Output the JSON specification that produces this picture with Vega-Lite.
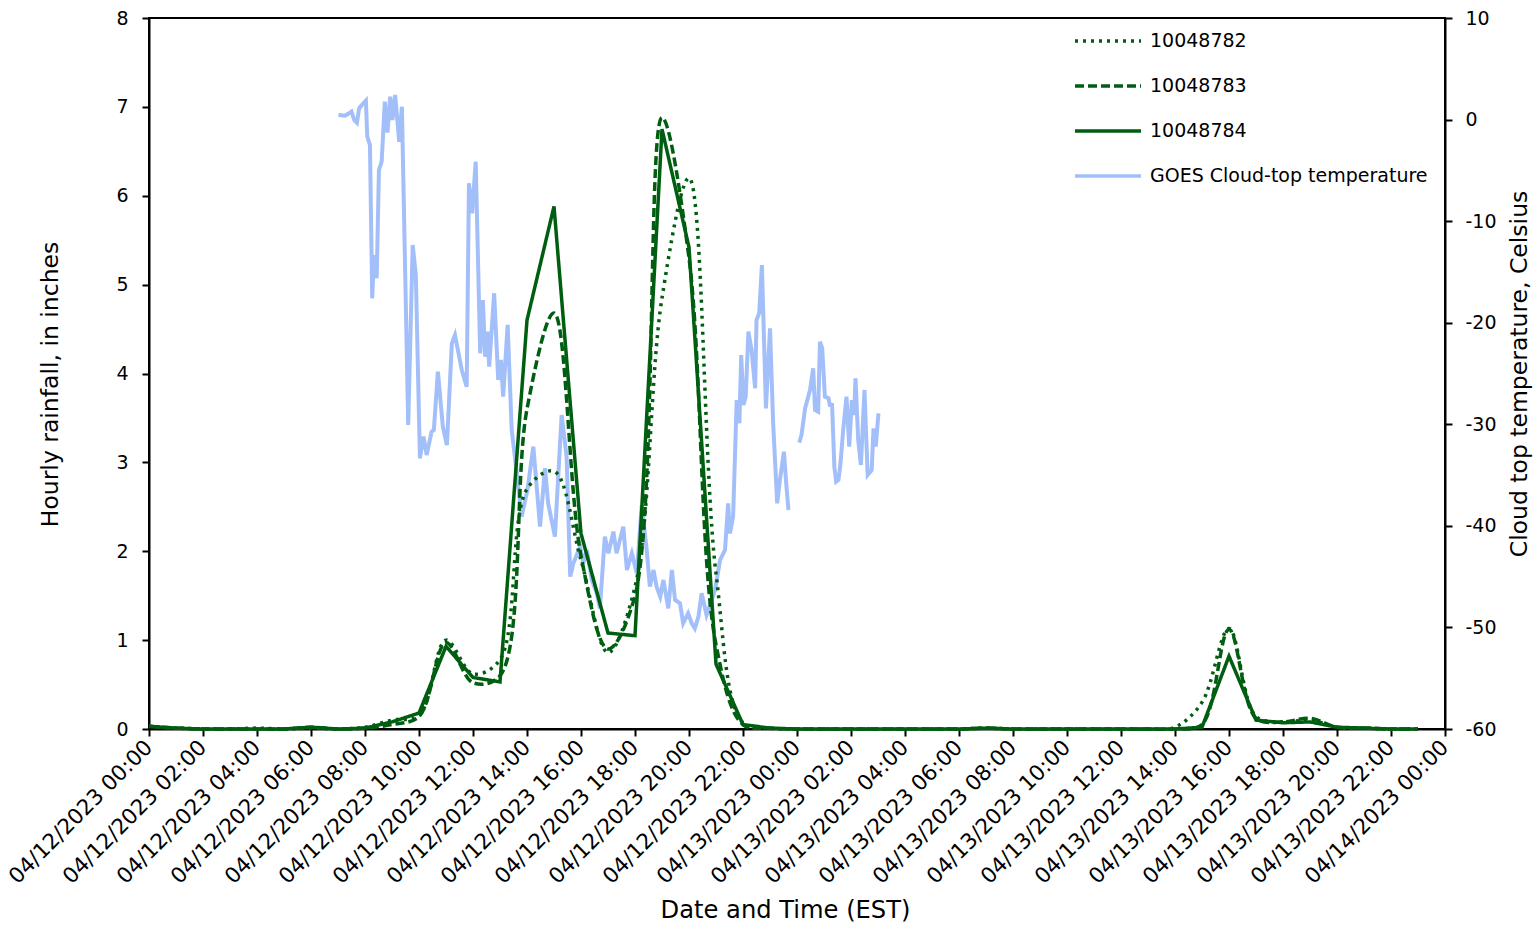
{
  "$schema": "https://vega.github.io/schema/vega-lite/v6.json",
  "width": 1296,
  "height": 711,
  "autosize": {"type": "none"},
  "padding": {"left": 149, "top": 18, "right": 92, "bottom": 201},
  "background": "white",
  "config": {
    "font": "DejaVu Sans",
    "view": {"stroke": "black", "strokeWidth": 2},
    "axis": {
      "domainColor": "black", "domainWidth": 2,
      "tickColor": "black", "tickWidth": 2, "tickSize": 7,
      "labelColor": "black", "titleColor": "black",
      "grid": false, "labelFontSize": 19, "titleFontSize": 23.5, "titleFontWeight": "normal"
    },
    "legend": {
      "orient": "none", "legendX": 924, "legendY": -12,
      "symbolType": "stroke", "symbolSize": 4356, "symbolStrokeWidth": 3.5,
      "labelFontSize": 19, "labelOffset": 7, "rowPadding": 0, "padding": 0, "labelLimit": 400,
      "labelColor": "black"
    }
  },
  "title": {
    "text": "NEXRAD Pixels 10048782, 10048783, 10048784",
    "fontSize": 33.6, "fontWeight": "normal", "baseline": "alphabetic",
    "offset": -9, "dx": -15, "color": "black"
  },
  "datasets": {
    "rain": [
      {"t": "2023-04-12T00:00", "px782": 0.03, "px783": 0.03, "px784": 0.03},
      {"t": "2023-04-12T01:00", "px782": 0.01, "px783": 0.01, "px784": 0.01},
      {"t": "2023-04-12T02:00", "px782": 0, "px783": 0, "px784": 0},
      {"t": "2023-04-12T03:00", "px782": 0, "px783": 0, "px784": 0},
      {"t": "2023-04-12T04:00", "px782": 0.01, "px783": 0, "px784": 0},
      {"t": "2023-04-12T05:00", "px782": 0, "px783": 0, "px784": 0},
      {"t": "2023-04-12T06:00", "px782": 0.01, "px783": 0.02, "px784": 0.02},
      {"t": "2023-04-12T07:00", "px782": 0, "px783": 0, "px784": 0},
      {"t": "2023-04-12T08:00", "px782": 0.02, "px783": 0.01, "px784": 0.01},
      {"t": "2023-04-12T09:00", "px782": 0.1, "px783": 0.05, "px784": 0.08},
      {"t": "2023-04-12T10:00", "px782": 0.15, "px783": 0.14, "px784": 0.18},
      {"t": "2023-04-12T11:00", "px782": 1.0, "px783": 0.97, "px784": 0.93},
      {"t": "2023-04-12T12:00", "px782": 0.62, "px783": 0.52, "px784": 0.58},
      {"t": "2023-04-12T13:00", "px782": 0.78, "px783": 0.6, "px784": 0.53},
      {"t": "2023-04-12T14:00", "px782": 2.7, "px783": 3.6, "px784": 4.6},
      {"t": "2023-04-12T15:00", "px782": 2.9, "px783": 4.68, "px784": 5.88},
      {"t": "2023-04-12T16:00", "px782": 1.9, "px783": 1.95, "px784": 2.2},
      {"t": "2023-04-12T17:00", "px782": 0.86, "px783": 0.9, "px784": 1.08},
      {"t": "2023-04-12T18:00", "px782": 1.6, "px783": 1.5, "px784": 1.05},
      {"t": "2023-04-12T19:00", "px782": 4.85, "px783": 6.88, "px784": 6.75},
      {"t": "2023-04-12T20:00", "px782": 6.2, "px783": 5.3, "px784": 5.42},
      {"t": "2023-04-12T21:00", "px782": 1.75, "px783": 0.95, "px784": 0.73},
      {"t": "2023-04-12T22:00", "px782": 0.07, "px783": 0.05, "px784": 0.05},
      {"t": "2023-04-12T23:00", "px782": 0.01, "px783": 0.01, "px784": 0.01},
      {"t": "2023-04-13T00:00", "px782": 0, "px783": 0, "px784": 0},
      {"t": "2023-04-13T01:00", "px782": 0, "px783": 0, "px784": 0},
      {"t": "2023-04-13T02:00", "px782": 0, "px783": 0, "px784": 0},
      {"t": "2023-04-13T03:00", "px782": 0, "px783": 0, "px784": 0},
      {"t": "2023-04-13T04:00", "px782": 0, "px783": 0, "px784": 0},
      {"t": "2023-04-13T05:00", "px782": 0, "px783": 0, "px784": 0},
      {"t": "2023-04-13T06:00", "px782": 0, "px783": 0, "px784": 0},
      {"t": "2023-04-13T07:00", "px782": 0.01, "px783": 0.01, "px784": 0.01},
      {"t": "2023-04-13T08:00", "px782": 0, "px783": 0, "px784": 0},
      {"t": "2023-04-13T09:00", "px782": 0, "px783": 0, "px784": 0},
      {"t": "2023-04-13T10:00", "px782": 0, "px783": 0, "px784": 0},
      {"t": "2023-04-13T11:00", "px782": 0, "px783": 0, "px784": 0},
      {"t": "2023-04-13T12:00", "px782": 0, "px783": 0, "px784": 0},
      {"t": "2023-04-13T13:00", "px782": 0, "px783": 0, "px784": 0},
      {"t": "2023-04-13T14:00", "px782": 0.02, "px783": 0, "px784": 0},
      {"t": "2023-04-13T15:00", "px782": 0.3, "px783": 0.05, "px784": 0.02},
      {"t": "2023-04-13T16:00", "px782": 1.13, "px783": 1.12, "px784": 0.82},
      {"t": "2023-04-13T17:00", "px782": 0.14, "px783": 0.12, "px784": 0.1},
      {"t": "2023-04-13T18:00", "px782": 0.08, "px783": 0.08, "px784": 0.07},
      {"t": "2023-04-13T19:00", "px782": 0.1, "px783": 0.12, "px784": 0.08},
      {"t": "2023-04-13T20:00", "px782": 0.02, "px783": 0.02, "px784": 0.02},
      {"t": "2023-04-13T21:00", "px782": 0.01, "px783": 0.01, "px784": 0.01},
      {"t": "2023-04-13T22:00", "px782": 0, "px783": 0, "px784": 0},
      {"t": "2023-04-13T23:00", "px782": 0, "px783": 0, "px784": 0}
    ],
    "goes": [
      {"t": "2023-04-12T07:01", "goes": 0.45, "seg": 1},
      {"t": "2023-04-12T07:16", "goes": 0.38, "seg": 1},
      {"t": "2023-04-12T07:30", "goes": 0.78, "seg": 1},
      {"t": "2023-04-12T07:36", "goes": -0.04, "seg": 1},
      {"t": "2023-04-12T07:42", "goes": -0.31, "seg": 1},
      {"t": "2023-04-12T07:47", "goes": 1.11, "seg": 1},
      {"t": "2023-04-12T07:53", "goes": 1.43, "seg": 1},
      {"t": "2023-04-12T08:02", "goes": 1.86, "seg": 1},
      {"t": "2023-04-12T08:05", "goes": -1.69, "seg": 1},
      {"t": "2023-04-12T08:11", "goes": -2.5, "seg": 1},
      {"t": "2023-04-12T08:16", "goes": -17.6, "seg": 1},
      {"t": "2023-04-12T08:20", "goes": -13.33, "seg": 1},
      {"t": "2023-04-12T08:26", "goes": -15.63, "seg": 1},
      {"t": "2023-04-12T08:31", "goes": -4.96, "seg": 1},
      {"t": "2023-04-12T08:37", "goes": -4.15, "seg": 1},
      {"t": "2023-04-12T08:44", "goes": 1.76, "seg": 1},
      {"t": "2023-04-12T08:50", "goes": -1.29, "seg": 1},
      {"t": "2023-04-12T08:56", "goes": 2.25, "seg": 1},
      {"t": "2023-04-12T09:01", "goes": -0.04, "seg": 1},
      {"t": "2023-04-12T09:07", "goes": 2.42, "seg": 1},
      {"t": "2023-04-12T09:16", "goes": -2.18, "seg": 1},
      {"t": "2023-04-12T09:22", "goes": 1.27, "seg": 1},
      {"t": "2023-04-12T09:36", "goes": -30.07, "seg": 1},
      {"t": "2023-04-12T09:46", "goes": -12.35, "seg": 1},
      {"t": "2023-04-12T09:53", "goes": -15.3, "seg": 1},
      {"t": "2023-04-12T10:02", "goes": -33.35, "seg": 1},
      {"t": "2023-04-12T10:10", "goes": -31.22, "seg": 1},
      {"t": "2023-04-12T10:17", "goes": -33.02, "seg": 1},
      {"t": "2023-04-12T10:28", "goes": -30.73, "seg": 1},
      {"t": "2023-04-12T10:33", "goes": -30.56, "seg": 1},
      {"t": "2023-04-12T10:42", "goes": -24.82, "seg": 1},
      {"t": "2023-04-12T10:53", "goes": -30.24, "seg": 1},
      {"t": "2023-04-12T11:02", "goes": -32.04, "seg": 1},
      {"t": "2023-04-12T11:13", "goes": -22.03, "seg": 1},
      {"t": "2023-04-12T11:20", "goes": -21.21, "seg": 1},
      {"t": "2023-04-12T11:35", "goes": -24.65, "seg": 1},
      {"t": "2023-04-12T11:46", "goes": -26.3, "seg": 1},
      {"t": "2023-04-12T11:51", "goes": -6.27, "seg": 1},
      {"t": "2023-04-12T11:58", "goes": -9.23, "seg": 1},
      {"t": "2023-04-12T12:06", "goes": -4.15, "seg": 1},
      {"t": "2023-04-12T12:16", "goes": -23.01, "seg": 1},
      {"t": "2023-04-12T12:22", "goes": -17.76, "seg": 1},
      {"t": "2023-04-12T12:27", "goes": -23.35, "seg": 1},
      {"t": "2023-04-12T12:32", "goes": -20.88, "seg": 1},
      {"t": "2023-04-12T12:36", "goes": -24.33, "seg": 1},
      {"t": "2023-04-12T12:47", "goes": -17.1, "seg": 1},
      {"t": "2023-04-12T12:56", "goes": -25.64, "seg": 1},
      {"t": "2023-04-12T13:02", "goes": -23.67, "seg": 1},
      {"t": "2023-04-12T13:07", "goes": -27.28, "seg": 1},
      {"t": "2023-04-12T13:17", "goes": -20.22, "seg": 1},
      {"t": "2023-04-12T13:26", "goes": -30.56, "seg": 1},
      {"t": "2023-04-12T13:37", "goes": -34.67, "seg": 1},
      {"t": "2023-04-12T13:48", "goes": -39.1, "seg": 1},
      {"t": "2023-04-12T14:01", "goes": -36.47, "seg": 1},
      {"t": "2023-04-12T14:14", "goes": -32.2, "seg": 1},
      {"t": "2023-04-12T14:29", "goes": -40.08, "seg": 1},
      {"t": "2023-04-12T14:40", "goes": -34.33, "seg": 1},
      {"t": "2023-04-12T14:47", "goes": -37.78, "seg": 1},
      {"t": "2023-04-12T15:02", "goes": -41.07, "seg": 1},
      {"t": "2023-04-12T15:17", "goes": -29.09, "seg": 1},
      {"t": "2023-04-12T15:28", "goes": -33.19, "seg": 1},
      {"t": "2023-04-12T15:36", "goes": -45.0, "seg": 1},
      {"t": "2023-04-12T15:43", "goes": -43.69, "seg": 1},
      {"t": "2023-04-12T15:58", "goes": -42.05, "seg": 1},
      {"t": "2023-04-12T16:05", "goes": -43.69, "seg": 1},
      {"t": "2023-04-12T16:13", "goes": -42.38, "seg": 1},
      {"t": "2023-04-12T16:24", "goes": -45.33, "seg": 1},
      {"t": "2023-04-12T16:35", "goes": -46.64, "seg": 1},
      {"t": "2023-04-12T16:42", "goes": -48.12, "seg": 1},
      {"t": "2023-04-12T16:53", "goes": -41.07, "seg": 1},
      {"t": "2023-04-12T17:01", "goes": -42.7, "seg": 1},
      {"t": "2023-04-12T17:12", "goes": -40.57, "seg": 1},
      {"t": "2023-04-12T17:19", "goes": -42.7, "seg": 1},
      {"t": "2023-04-12T17:34", "goes": -40.08, "seg": 1},
      {"t": "2023-04-12T17:42", "goes": -44.35, "seg": 1},
      {"t": "2023-04-12T17:53", "goes": -42.7, "seg": 1},
      {"t": "2023-04-12T18:04", "goes": -44.67, "seg": 1},
      {"t": "2023-04-12T18:15", "goes": -37.95, "seg": 1},
      {"t": "2023-04-12T18:26", "goes": -42.38, "seg": 1},
      {"t": "2023-04-12T18:33", "goes": -45.99, "seg": 1},
      {"t": "2023-04-12T18:41", "goes": -44.35, "seg": 1},
      {"t": "2023-04-12T18:48", "goes": -45.99, "seg": 1},
      {"t": "2023-04-12T18:56", "goes": -46.97, "seg": 1},
      {"t": "2023-04-12T19:03", "goes": -45.33, "seg": 1},
      {"t": "2023-04-12T19:14", "goes": -48.12, "seg": 1},
      {"t": "2023-04-12T19:22", "goes": -44.35, "seg": 1},
      {"t": "2023-04-12T19:29", "goes": -47.3, "seg": 1},
      {"t": "2023-04-12T19:40", "goes": -47.62, "seg": 1},
      {"t": "2023-04-12T19:47", "goes": -49.59, "seg": 1},
      {"t": "2023-04-12T19:58", "goes": -48.61, "seg": 1},
      {"t": "2023-04-12T20:06", "goes": -49.59, "seg": 1},
      {"t": "2023-04-12T20:13", "goes": -50.09, "seg": 1},
      {"t": "2023-04-12T20:21", "goes": -48.94, "seg": 1},
      {"t": "2023-04-12T20:28", "goes": -46.64, "seg": 1},
      {"t": "2023-04-12T20:39", "goes": -48.78, "seg": 1},
      {"t": "2023-04-12T20:58", "goes": -46.31, "seg": 1},
      {"t": "2023-04-12T21:09", "goes": -43.36, "seg": 1},
      {"t": "2023-04-12T21:20", "goes": -42.38, "seg": 1},
      {"t": "2023-04-12T21:27", "goes": -37.78, "seg": 1},
      {"t": "2023-04-12T21:31", "goes": -40.73, "seg": 1},
      {"t": "2023-04-12T21:38", "goes": -39.1, "seg": 1},
      {"t": "2023-04-12T21:46", "goes": -27.61, "seg": 1},
      {"t": "2023-04-12T21:52", "goes": -29.9, "seg": 1},
      {"t": "2023-04-12T21:56", "goes": -23.18, "seg": 1},
      {"t": "2023-04-12T22:01", "goes": -28.1, "seg": 1},
      {"t": "2023-04-12T22:06", "goes": -27.28, "seg": 1},
      {"t": "2023-04-12T22:12", "goes": -20.88, "seg": 1},
      {"t": "2023-04-12T22:19", "goes": -22.69, "seg": 1},
      {"t": "2023-04-12T22:27", "goes": -26.46, "seg": 1},
      {"t": "2023-04-12T22:30", "goes": -19.73, "seg": 1},
      {"t": "2023-04-12T22:36", "goes": -19.07, "seg": 1},
      {"t": "2023-04-12T22:42", "goes": -14.32, "seg": 1},
      {"t": "2023-04-12T22:51", "goes": -28.43, "seg": 1},
      {"t": "2023-04-12T23:00", "goes": -20.55, "seg": 1},
      {"t": "2023-04-12T23:07", "goes": -29.9, "seg": 1},
      {"t": "2023-04-12T23:16", "goes": -37.78, "seg": 1},
      {"t": "2023-04-12T23:22", "goes": -35.48, "seg": 1},
      {"t": "2023-04-12T23:31", "goes": -32.7, "seg": 1},
      {"t": "2023-04-12T23:36", "goes": -35.81, "seg": 1},
      {"t": "2023-04-12T23:41", "goes": -38.44, "seg": 1},
      {"t": "2023-04-13T00:05", "goes": -31.81, "seg": 2},
      {"t": "2023-04-13T00:10", "goes": -31.05, "seg": 2},
      {"t": "2023-04-13T00:18", "goes": -28.43, "seg": 2},
      {"t": "2023-04-13T00:29", "goes": -26.62, "seg": 2},
      {"t": "2023-04-13T00:36", "goes": -24.49, "seg": 2},
      {"t": "2023-04-13T00:40", "goes": -28.59, "seg": 2},
      {"t": "2023-04-13T00:47", "goes": -28.76, "seg": 2},
      {"t": "2023-04-13T00:51", "goes": -21.87, "seg": 2},
      {"t": "2023-04-13T00:56", "goes": -22.52, "seg": 2},
      {"t": "2023-04-13T01:02", "goes": -27.28, "seg": 2},
      {"t": "2023-04-13T01:10", "goes": -27.44, "seg": 2},
      {"t": "2023-04-13T01:13", "goes": -28.1, "seg": 2},
      {"t": "2023-04-13T01:18", "goes": -28.1, "seg": 2},
      {"t": "2023-04-13T01:23", "goes": -34.17, "seg": 2},
      {"t": "2023-04-13T01:27", "goes": -35.65, "seg": 2},
      {"t": "2023-04-13T01:32", "goes": -35.48, "seg": 2},
      {"t": "2023-04-13T01:36", "goes": -34.17, "seg": 2},
      {"t": "2023-04-13T01:43", "goes": -30.39, "seg": 2},
      {"t": "2023-04-13T01:50", "goes": -27.28, "seg": 2},
      {"t": "2023-04-13T01:56", "goes": -32.2, "seg": 2},
      {"t": "2023-04-13T02:02", "goes": -27.61, "seg": 2},
      {"t": "2023-04-13T02:07", "goes": -29.09, "seg": 2},
      {"t": "2023-04-13T02:10", "goes": -25.47, "seg": 2},
      {"t": "2023-04-13T02:16", "goes": -31.55, "seg": 2},
      {"t": "2023-04-13T02:22", "goes": -34.01, "seg": 2},
      {"t": "2023-04-13T02:30", "goes": -26.62, "seg": 2},
      {"t": "2023-04-13T02:37", "goes": -34.99, "seg": 2},
      {"t": "2023-04-13T02:46", "goes": -34.5, "seg": 2},
      {"t": "2023-04-13T02:50", "goes": -30.39, "seg": 2},
      {"t": "2023-04-13T02:55", "goes": -32.2, "seg": 2},
      {"t": "2023-04-13T03:01", "goes": -28.92, "seg": 2}
    ]
  },
  "layer": [
    {
      "data": {"name": "goes"},
      "transform": [{"fold": ["goes"], "as": ["series", "temp"]}],
      "mark": {"type": "line", "strokeWidth": 4},
      "encoding": {
        "x": {
          "field": "t", "type": "temporal", "title": "Date and Time (EST)",
          "scale": {"domain": [
            {"year": 2023, "month": 4, "date": 12, "hours": 0},
            {"year": 2023, "month": 4, "date": 14, "hours": 0}
          ]},
          "axis": {
            "values": [
              {"year": 2023, "month": 4, "date": 12, "hours": 0},
              {"year": 2023, "month": 4, "date": 12, "hours": 2},
              {"year": 2023, "month": 4, "date": 12, "hours": 4},
              {"year": 2023, "month": 4, "date": 12, "hours": 6},
              {"year": 2023, "month": 4, "date": 12, "hours": 8},
              {"year": 2023, "month": 4, "date": 12, "hours": 10},
              {"year": 2023, "month": 4, "date": 12, "hours": 12},
              {"year": 2023, "month": 4, "date": 12, "hours": 14},
              {"year": 2023, "month": 4, "date": 12, "hours": 16},
              {"year": 2023, "month": 4, "date": 12, "hours": 18},
              {"year": 2023, "month": 4, "date": 12, "hours": 20},
              {"year": 2023, "month": 4, "date": 12, "hours": 22},
              {"year": 2023, "month": 4, "date": 13, "hours": 0},
              {"year": 2023, "month": 4, "date": 13, "hours": 2},
              {"year": 2023, "month": 4, "date": 13, "hours": 4},
              {"year": 2023, "month": 4, "date": 13, "hours": 6},
              {"year": 2023, "month": 4, "date": 13, "hours": 8},
              {"year": 2023, "month": 4, "date": 13, "hours": 10},
              {"year": 2023, "month": 4, "date": 13, "hours": 12},
              {"year": 2023, "month": 4, "date": 13, "hours": 14},
              {"year": 2023, "month": 4, "date": 13, "hours": 16},
              {"year": 2023, "month": 4, "date": 13, "hours": 18},
              {"year": 2023, "month": 4, "date": 13, "hours": 20},
              {"year": 2023, "month": 4, "date": 13, "hours": 22},
              {"year": 2023, "month": 4, "date": 14, "hours": 0}
            ],
            "format": "%m/%d/%Y %H:%M",
            "labelFontSize": 21.5, "labelLimit": 400,
            "labelAngle": -45, "labelAlign": "right", "labelBaseline": "middle",
            "labelPadding": 8, "labelOverlap": false, "labelFlush": false, "labelBound": false,
            "titleFontSize": 24.2, "titlePadding": 11, "titleX": 636
          }
        },
        "y": {
          "field": "temp", "type": "quantitative",
          "scale": {"domain": [-60, 10], "nice": false},
          "axis": {
            "orient": "right", "values": [-60, -50, -40, -30, -20, -10, 0, 10],
            "labelExpr": "datum.value < 0 ? '-' + abs(datum.value) : '' + datum.value",
            "title": "Cloud top temperature, Celsius", "titleAngle": -90, "titleBaseline": "top",
            "labelPadding": 13, "titlePadding": 11
          }
        },
        "detail": {"field": "seg", "type": "nominal"},
        "color": {
          "field": "series", "type": "nominal", "title": null,
          "scale": {"domain": ["px782", "px783", "px784", "goes"], "range": ["#005e10", "#005e10", "#005e10", "#a3bffa"]},
          "legend": {
            "labelExpr": "datum.label == 'px782' ? '10048782' : datum.label == 'px783' ? '10048783' : datum.label == 'px784' ? '10048784' : 'GOES Cloud-top temperature'"
          }
        },
        "strokeDash": {
          "field": "series", "type": "nominal", "title": null,
          "scale": {"domain": ["px782", "px783", "px784", "goes"], "range": [[3, 5], [9, 4], [1, 0], [1, 0]]},
          "legend": {
            "labelExpr": "datum.label == 'px782' ? '10048782' : datum.label == 'px783' ? '10048783' : datum.label == 'px784' ? '10048784' : 'GOES Cloud-top temperature'"
          }
        }
      }
    },
    {
      "data": {"name": "rain"},
      "transform": [{"fold": ["px782", "px783", "px784"], "as": ["series", "rain"]}],
      "encoding": {
        "x": {"field": "t", "type": "temporal"},
        "y": {
          "field": "rain", "type": "quantitative",
          "scale": {"domain": [0, 8], "nice": false},
          "axis": {
            "orient": "left", "values": [0, 1, 2, 3, 4, 5, 6, 7, 8], "format": "d",
            "title": "Hourly rainfall, in inches", "labelPadding": 14, "titlePadding": 53, "titleY": 366
          }
        },
        "color": {"field": "series", "type": "nominal", "title": null},
        "strokeDash": {"field": "series", "type": "nominal", "title": null}
      },
      "layer": [
        {
          "transform": [{"filter": "datum.series != 'px784'"}],
          "mark": {"type": "line", "interpolate": "catmull-rom", "strokeWidth": 3.5}
        },
        {
          "transform": [{"filter": "datum.series == 'px784'"}],
          "mark": {"type": "line", "strokeWidth": 3.5}
        }
      ]
    }
  ],
  "resolve": {"scale": {"y": "independent"}}
}
